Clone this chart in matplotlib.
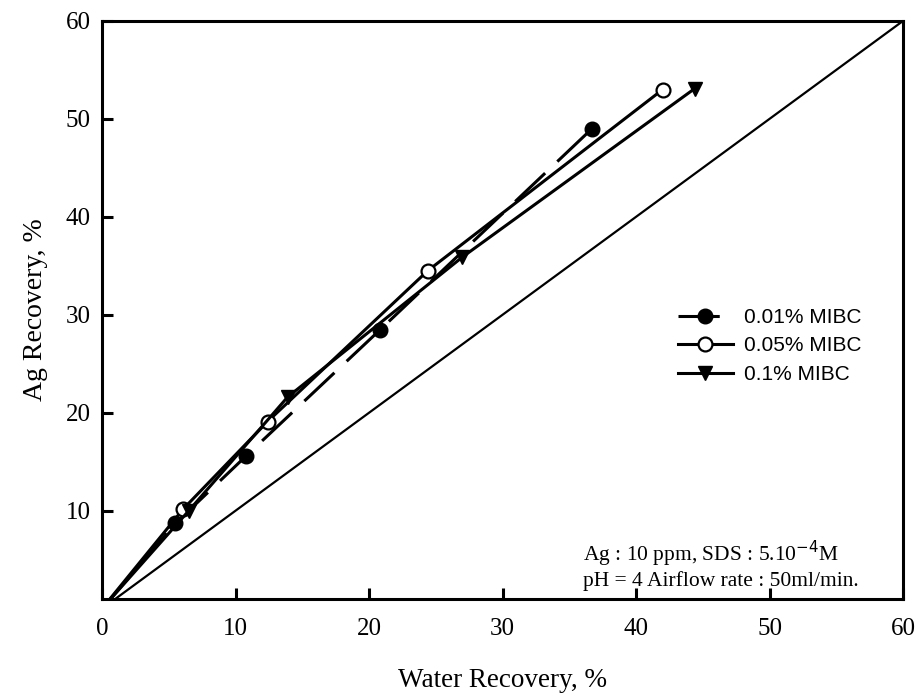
import matplotlib
matplotlib.use("Agg")
import matplotlib.pyplot as plt

# data
mibc001_x = [0.0, 5.5, 10.8, 20.85, 36.7]
mibc001_y = [0.0, 8.7, 15.6, 28.5, 49.0]
mibc005_x = [0.0, 6.1, 12.4, 24.4, 42.0]
mibc005_y = [0.0, 10.2, 19.1, 34.5, 53.0]
mibc01_x = [0.0, 6.5, 13.9, 27.0, 44.4]
mibc01_y = [0.0, 10.0, 21.6, 35.9, 53.1]
diag_x = [0.0, 60.0]
diag_y = [0.0, 60.0]

x_ticks = [0, 10, 20, 30, 40, 50, 60]
y_ticks = [10, 20, 30, 40, 50, 60]


def main():
    plt.rcParams['font.family'] = ['Liberation Serif', 'DejaVu Serif']

    fig = plt.figure(figsize=(9.19, 6.98), dpi=100)
    ax = fig.add_axes([0.111, 0.142, 0.8716, 0.828])

    ax.plot(diag_x, diag_y, color='black', lw=1.6)
    ax.plot(mibc001_x, mibc001_y, color='black', lw=2.2, dashes=(13.5, 5.5),
            marker='o', markersize=10.5, markerfacecolor='black',
            markeredgecolor='black', label='0.01% MIBC')
    ax.plot(mibc005_x, mibc005_y, color='black', lw=2.2,
            marker='o', markersize=10, markerfacecolor='white',
            markeredgecolor='black', markeredgewidth=1.6, label='0.05% MIBC')
    ax.plot(mibc01_x, mibc01_y, color='black', lw=2.2,
            marker='v', markersize=10, markerfacecolor='black',
            markeredgecolor='black', label='0.1% MIBC')

    ax.set_xlim(0, 60)
    ax.set_ylim(1, 60)
    ax.set_xticks(x_ticks)
    ax.set_yticks(y_ticks)
    ax.tick_params(direction='in', length=8, width=2.2, labelsize=18,
                   top=False, right=False)
    ax.tick_params(axis='x', pad=14)
    ax.tick_params(axis='y', pad=8)
    for s in ax.spines.values():
        s.set_linewidth(2.2)

    ax.set_xlabel('Water Recovery, %', fontsize=19.5, labelpad=20)
    ax.set_ylabel('Ag Recovery, %', fontsize=20, labelpad=13)

    ax.legend(loc='center left', bbox_to_anchor=(0.7066, 0.4377),
              frameon=False, borderpad=0, handlelength=2.6,
              handletextpad=0.53, labelspacing=0.45,
              prop={'family': 'Liberation Sans', 'size': 15})

    ax.text(0.6005, 0.059, 'Ag : 10 ppm, SDS : 5.10$^{-4}$M\npH = 4 Airflow rate : 50ml/min.',
            transform=ax.transAxes, fontsize=15.5, va='center', ha='left',
            linespacing=1.15)

    fig.savefig('out.png', dpi=100)


if __name__ == '__main__':
    main()
